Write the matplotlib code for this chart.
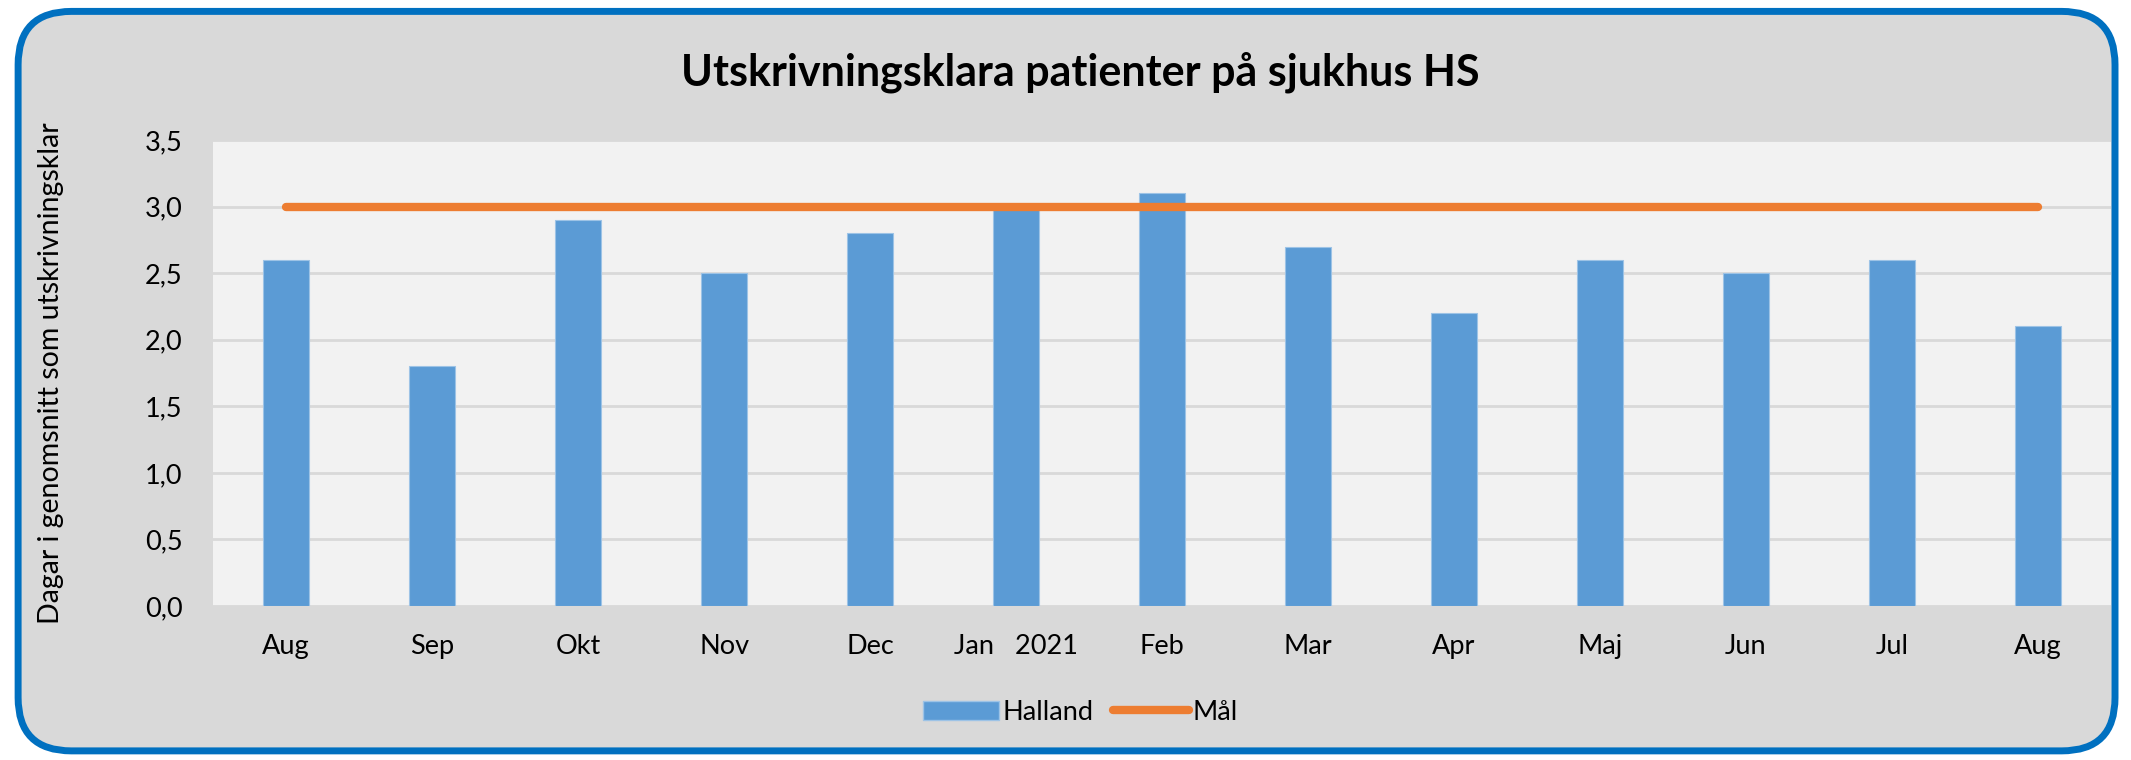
import matplotlib.pyplot as plt
from matplotlib.patches import FancyBboxPatch, Patch
from matplotlib.lines import Line2D
import numpy as np

months = ["Aug", "Sep", "Okt", "Nov", "Dec", "Jan   2021", "Feb", "Mar",
          "Apr", "Maj", "Jun", "Jul", "Aug"]
halland = [2.6, 1.8, 2.9, 2.5, 2.8, 3.0, 3.1, 2.7, 2.2, 2.6, 2.5, 2.6, 2.1]
mal = [3.0] * 13
yticks = [0.0, 0.5, 1.0, 1.5, 2.0, 2.5, 3.0, 3.5]

plt.rcParams['font.family'] = ['Lato', 'DejaVu Sans']

fig = plt.figure(figsize=(21.31, 7.6), dpi=100)
fig.patch.set_facecolor("white")

# rounded frame behind everything
box = FancyBboxPatch((0.0085, 0.012), 0.984, 0.973,
                     boxstyle="round,pad=0,rounding_size=0.025",
                     transform=fig.transFigure, facecolor="#D9D9D9",
                     edgecolor="#0070C0", linewidth=5, zorder=-10,
                     mutation_aspect=2131 / 760)
fig.patches.append(box)

ax = fig.add_axes([0.1, 0.2026, 0.8906, 0.6132])
ax.set_facecolor("#F2F2F2")

x = np.arange(len(months))
ax.bar(x, halland, width=0.31, color="#5B9BD5", edgecolor="#9DC3E6",
       linewidth=0.8, zorder=2)
ax.plot(x, mal, color="#ED7D31", linewidth=6, solid_capstyle="round", zorder=3)

ax.set_xlim(-0.5, len(months) - 0.5)
ax.set_ylim(0, 3.5)
ax.set_yticks(yticks)
ax.set_yticklabels([f"{v:.1f}".replace(".", ",") for v in yticks], fontsize=19.5)
ax.set_xticks(x)
ax.set_xticklabels(months, fontsize=19.5)
ax.tick_params(length=0)
ax.tick_params(axis="x", pad=20)
ax.tick_params(axis="y", pad=22)
ax.grid(axis="y", color="#D9D9D9", linewidth=2, zorder=1)
for s in ax.spines.values():
    s.set_visible(False)

ax.set_ylabel("Dagar i genomsnitt som utskrivningsklar", fontsize=20.5, labelpad=58)
fig.text(0.507, 0.905, "Utskrivningsklara patienter på sjukhus HS",
         ha="center", va="center", fontsize=31, fontweight="bold")

handles = [Patch(facecolor="#5B9BD5", edgecolor="#9DC3E6"),
           Line2D([0], [0], color="#ED7D31", linewidth=6, solid_capstyle="round")]
fig.legend(handles, ["Halland", "Mål"], loc="center", bbox_to_anchor=(0.507, 0.063),
           ncol=2, frameon=False, fontsize=19.5, handlelength=2.8,
           handletextpad=0.15, columnspacing=0.7)

fig.savefig("out.png", dpi=100, facecolor=fig.get_facecolor())
